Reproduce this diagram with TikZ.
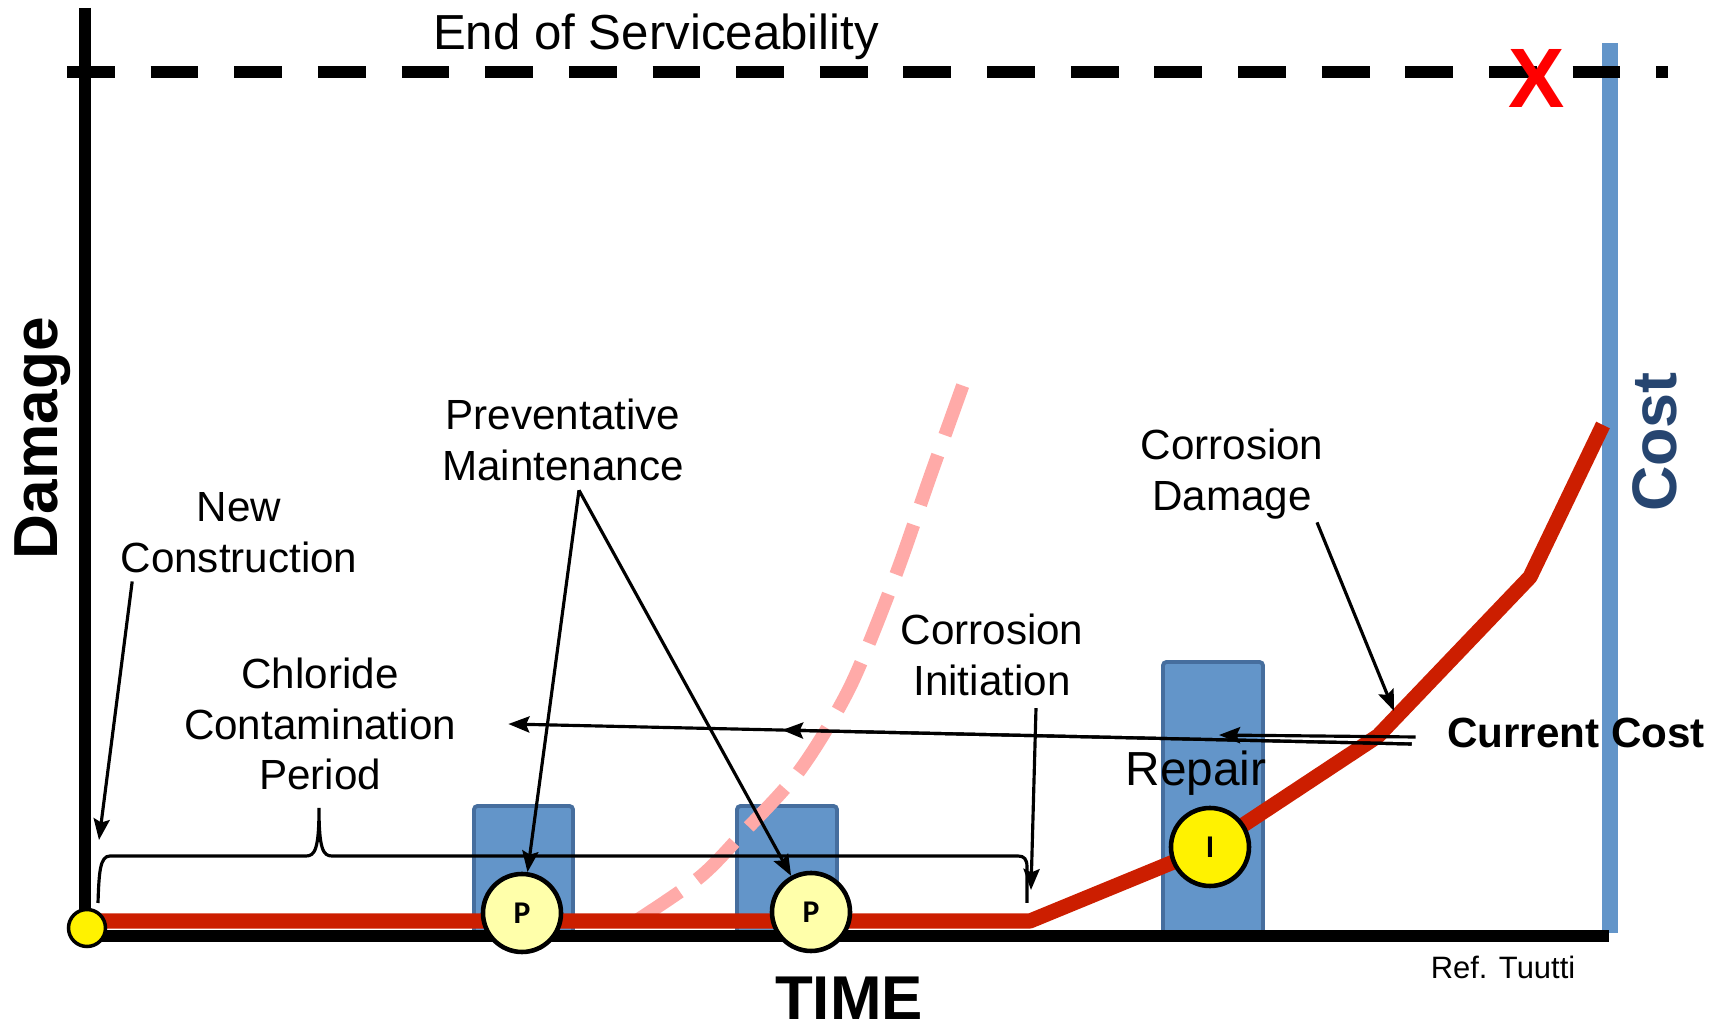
\documentclass[tikz,border=0pt]{standalone}
\usepackage{fontspec}
\setmainfont{Liberation Sans}
\newfontfamily\calfont{Carlito}
\usetikzlibrary{arrows.meta,calc}
\definecolor{barblue}{RGB}{99,149,201}
\definecolor{bardark}{RGB}{70,110,158}
\definecolor{curvered}{RGB}{204,30,0}
\definecolor{pinkdash}{RGB}{255,170,168}
\definecolor{pyellow}{RGB}{255,255,170}
\definecolor{costblue}{RGB}{38,69,112}

\tikzset{
  lbl/.style={font=\fontsize{12}{14.4}\selectfont, align=center},
  bar/.style={fill=barblue, draw=bardark, line width=1.1pt, rounded corners=1pt},
  ptr/.style={-{Stealth[length=6pt,width=4.6pt,inset=1pt]}, line width=0.9pt},
  ring/.style={circle, draw, line width=1.3pt, inner sep=0pt, minimum size=0.78cm, font=\calfont\bfseries\fontsize{9}{9}\selectfont},
}

\begin{document}
\begin{tikzpicture}
  \useasboundingbox (0,0) rectangle (17.28,10.27);

  % repair and maintenance costs
  \draw[bar] (4.74,0.93) rectangle (5.73,2.21);
  \draw[bar] (7.37,0.93) rectangle (8.37,2.21);
  \draw[bar] (11.63,0.93) rectangle (12.63,3.65);

  % cost axis
  \draw[barblue, line width=4.5pt] (16.10,0.94) -- (16.10,9.84);

  % end of serviceability
  \draw[line width=3.4pt, dash pattern=on 13.6pt off 10.2pt] (0.67,9.55) -- (16.68,9.55);
  % damage axis
  \draw[line width=3.2pt] (0.85,10.19) -- (0.85,0.91);

  % damage without maintenance
  \draw[pinkdash, line width=3.8pt, dash pattern=on 15pt off 6pt] plot[smooth] coordinates {(6.36,1.06) (7.00,1.50) (7.43,1.94) (8.00,2.57) (8.50,3.40) (8.95,4.50) (9.30,5.50) (9.64,6.45)};

  % damage curve
  \draw[curvered, line width=4.3pt, line join=round] (0.87,1.06) -- (10.30,1.06) -- (12.10,1.80) -- (13.78,2.91) -- (15.30,4.50) -- (16.03,6.02);

  % time axis
  \draw[line width=3.4pt] (0.85,0.91) -- (16.09,0.91);

  \node[ring, fill=pyellow] (p1) at (5.22,1.14) {P};
  \node[ring, fill=pyellow] (p2) at (8.11,1.15) {P};
  \node[ring, fill=yellow] (ii) at (12.10,1.80) {I};
  \node[circle, draw, line width=1pt, fill=yellow, minimum size=0.37cm, inner sep=0pt] (orig) at (0.87,0.99) {};

  \node[font=\fontsize{14}{16}\selectfont, anchor=base] (eos) at (6.56,9.77) {End of Serviceability};
  \node[text=red, font=\bfseries\fontsize{24}{24}\selectfont] (xmark) at (15.37,9.49) {X};
  \node[rotate=90, font=\bfseries\fontsize{17.7}{20}\selectfont] (dmg) at (0.43,5.89) {Damage};
  \node[rotate=90, text=costblue, font=\bfseries\fontsize{17.9}{20}\selectfont] (cost) at (16.55,5.85) {Cost};
  \node[font=\bfseries\fontsize{17.6}{20}\selectfont] (time) at (8.49,0.29) {TIME};
  \node[font=\fontsize{8.8}{10}\selectfont] (ref) at (15.03,0.60) {Ref. Tuutti};
  \node[lbl] (newc) at (2.39,4.94) {New\\Construction};
  \node[lbl] (chl) at (3.20,3.03) {Chloride\\Contamination\\Period};
  \node[lbl] (pm) at (5.63,5.87) {Preventative\\Maintenance};
  \node[lbl] (ci) at (9.92,3.72) {Corrosion\\Initiation};
  \node[lbl] (cd) at (12.32,5.53) {Corrosion\\Damage};
  \node[font=\bfseries\fontsize{12}{14}\selectfont] (cc) at (15.76,2.94) {Current Cost};
  \node[font=\fontsize{13.6}{16}\selectfont, anchor=base] (rep) at (11.96,2.41) {Repair};

  % chloride period brace
  \draw[line width=0.9pt] (0.98,1.24) .. controls (0.99,1.55) and (1.00,1.71) .. (1.10,1.71) -- (3.06,1.71)
    .. controls (3.15,1.71) and (3.19,1.78) .. (3.19,2.19)
    .. controls (3.19,1.78) and (3.23,1.71) .. (3.32,1.71) -- (10.18,1.71)
    .. controls (10.24,1.71) and (10.27,1.68) .. (10.27,1.60) -- (10.27,1.24);

  % pointers
  \coordinate (newtip) at (0.99,1.87);
  \coordinate (citip) at (10.31,1.37);
  \coordinate (cdtip) at (13.94,3.16);
  \coordinate (bartip) at (12.19,2.92);
  \coordinate (pmtop) at ([xshift=0.16cm,yshift=0.03cm]pm.south);
  \coordinate (costa) at ([xshift=-0.23cm,yshift=-0.11cm]cc.west);
  \coordinate (costb) at ([xshift=-0.19cm,yshift=-0.04cm]cc.west);
  \coordinate (chltip) at ([xshift=0.40cm]chl.east);
  \coordinate (midtip) at ($(costa)!0.697!(chltip)$);

  \draw[ptr] ([xshift=0.24cm,yshift=0.04cm]newc.south west) -- (newtip);
  \draw[ptr] (pmtop) -- (p1);
  \draw[ptr] (pmtop) -- (p2);
  \draw[ptr] ([xshift=0.44cm]ci.south) -- (citip);
  \draw[ptr] ([xshift=0.85cm,yshift=0.09cm]cd.south) -- (cdtip);
  \draw[ptr] (costa) -- (chltip);
  \draw[ptr] (costa) -- (midtip);
  \draw[ptr] (costb) -- (bartip);
\end{tikzpicture}
\end{document}
